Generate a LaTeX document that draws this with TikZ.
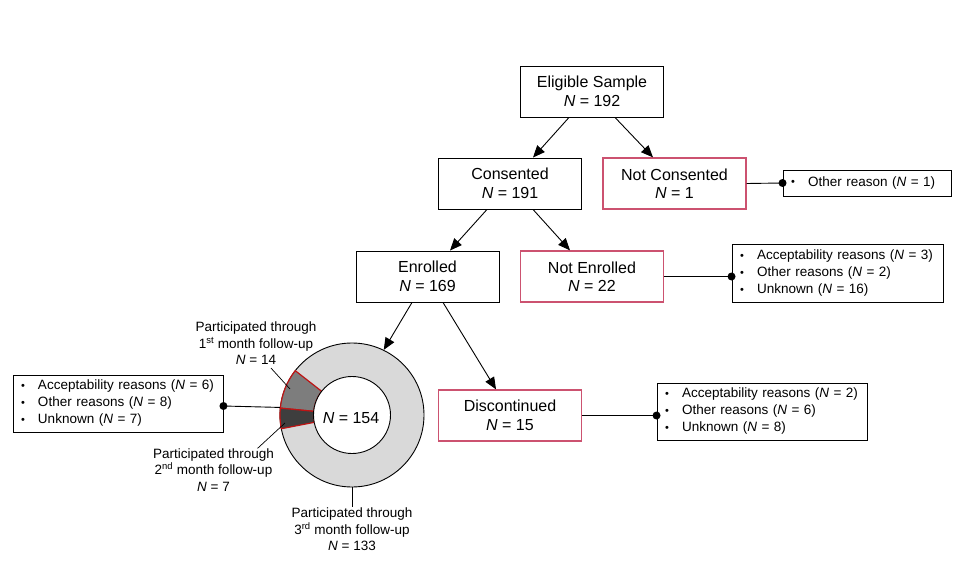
\documentclass[tikz,border=0pt]{standalone}
\usepackage{fontspec}
\setmainfont{Liberation Sans}
\usetikzlibrary{arrows.meta,calc}
\definecolor{pinkc}{RGB}{204,82,112}
\definecolor{lightg}{RGB}{217,217,217}
\definecolor{medg}{RGB}{125,125,125}
\definecolor{darkg}{RGB}{62,62,62}
\definecolor{segred}{RGB}{190,20,20}
\newcommand{\NN}{\textit{N}}
\newcommand{\bl}{\makebox[17pt][l]{\raisebox{0.6pt}{\fontsize{11}{11}\selectfont •}}}
\tikzset{
  mainbox/.style={draw=black, line width=0.9pt, minimum width=143pt, minimum height=51pt, align=center, inner sep=2pt, font=\fontsize{16}{18.5}\selectfont},
  pinkbox/.style={mainbox, draw=pinkc, line width=1.3pt},
  listbox/.style={draw=black, line width=0.9pt, align=left, inner xsep=8pt, inner ysep=2pt, font=\fontsize{13.5}{17}\selectfont},
  lbl/.style={align=center, inner sep=1pt, font=\fontsize{13.5}{16.5}\selectfont},
  arr/.style={line width=0.9pt, -{Triangle[length=12pt,width=10pt]}},
  conn/.style={line width=0.9pt},
  dot/.style={circle, fill=black, inner sep=0pt, minimum size=8pt},
  seg/.style={draw=segred, line width=1.2pt}
}
\begin{document}
\begin{tikzpicture}[x=1pt,y=1pt]
\useasboundingbox (0,0) rectangle (962,-578);
\fill[white] (0,0) rectangle (962,-578);

% boxes
\node[mainbox] (elig) at (592,-91.5) {Eligible Sample\\\NN{} = 192};
\node[mainbox] (cons) at (510,-183.5) {Consented\\\NN{} = 191};
\node[pinkbox] (notcons) at (674.5,-183.5) {Not Consented\\\NN{} = 1};
\node[mainbox] (enr) at (427.5,-276.5) {Enrolled\\\NN{} = 169};
\node[pinkbox] (notenr) at (592,-276.5) {Not Enrolled\\\NN{} = 22};
\node[pinkbox] (disc) at (510,-415.5) {Discontinued\\\NN{} = 15};

\node[listbox, text width=152pt, minimum height=26pt] (other1) at (867,-183) {\bl Other reason (\NN{} = 1)};
\node[listbox, text width=195pt, minimum height=58pt] (box2) at (837.5,-273.5) {\bl Acceptability reasons (\NN{} = 3)\\\bl Other reasons (\NN{} = 2)\\\bl Unknown (\NN{} = 16)};
\node[listbox, text width=194pt, minimum height=57pt] (box3) at (762,-411.5) {\bl Acceptability reasons (\NN{} = 2)\\\bl Other reasons (\NN{} = 6)\\\bl Unknown (\NN{} = 8)};
\node[listbox, text width=194pt, minimum height=57pt] (leftbox) at (118,-403.5) {\bl Acceptability reasons (\NN{} = 6)\\\bl Other reasons (\NN{} = 8)\\\bl Unknown (\NN{} = 7)};

% donut
\node[circle, draw=black, line width=0.9pt, fill=lightg, minimum size=144pt, inner sep=0pt] (donut) at (352,-415) {};
\filldraw[seg, fill=medg] ($(donut.center)+(142:38.5pt)$) -- ($(donut.center)+(142:72pt)$) arc[start angle=142, end angle=174.5, radius=72pt] -- ($(donut.center)+(174.5:38.5pt)$) arc[start angle=174.5, end angle=142, radius=38.5pt] -- cycle;
\filldraw[seg, fill=darkg] ($(donut.center)+(174.5:38.5pt)$) -- ($(donut.center)+(174.5:72pt)$) arc[start angle=174.5, end angle=191, radius=72pt] -- ($(donut.center)+(191:38.5pt)$) arc[start angle=191, end angle=174.5, radius=38.5pt] -- cycle;
\node[circle, draw=black, line width=0.9pt, fill=white, minimum size=77pt, inner sep=0pt] (hole) at (donut.center) {};
\node[font=\fontsize{16}{18}\selectfont] (ntot) at (351,-418) {\NN{} = 154};

% donut labels
\node[lbl] (lab1) at (256,-343.5) {Participated through\\1\textsuperscript{st} month follow-up\\\NN{} = 14};
\node[lbl] (lab2) at (213.5,-470) {Participated through\\2\textsuperscript{nd} month follow-up\\\NN{} = 7};
\node[lbl, anchor=north] (lab3) at (352,-507) {Participated through\\3\textsuperscript{rd} month follow-up\\\NN{} = 133};
\coordinate (p1) at (290,-389);
\coordinate (p2) at (285,-423);
\draw[conn, line width=0.7pt] ([xshift=15pt,yshift=-2pt]lab1.south) -- (p1);
\draw[conn, line width=0.7pt] ([xshift=44pt,yshift=-1pt]lab2.north) -- (p2);
\draw[conn, line width=0.7pt] (donut.south) -- (lab3.north);

% arrows
\draw[arr] ([xshift=-23pt]elig.south) -- ([xshift=23pt]cons.north);
\draw[arr] ([xshift=23pt]elig.south) -- ([xshift=-21.5pt]notcons.north);
\draw[arr] ([xshift=-23pt]cons.south) -- ([xshift=22.5pt]enr.north);
\draw[arr] ([xshift=23pt]cons.south) -- ([xshift=-22pt]notenr.north);
\draw[arr] ([xshift=-15.5pt]enr.south) -- (donut.64);
\draw[arr] ([xshift=15.5pt]enr.south) -- ([xshift=-14pt]disc.north);

% side connectors with dots
\draw[conn] (notcons.east) -- (other1.west);
\node[dot] (d1) at (other1.west) {};
\draw[conn] (notenr.east) -- (notenr.east -| box2.west);
\node[dot] (d2) at (notenr.east -| box2.west) {};
\draw[conn] (disc.east) -- (disc.east -| box3.west);
\node[dot] (d3) at (disc.east -| box3.west) {};
\draw[conn] (donut.174.5) -- ([yshift=-2.5pt]leftbox.east);
\node[dot] (d4) at ([yshift=-2.5pt]leftbox.east) {};
\end{tikzpicture}
\end{document}
